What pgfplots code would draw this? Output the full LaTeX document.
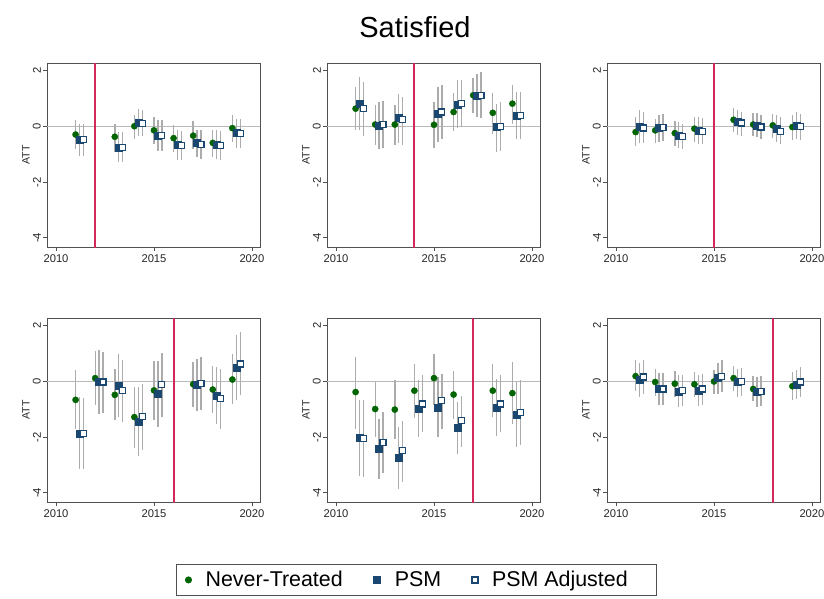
\documentclass[border=0pt]{standalone}
\usepackage{pgfplots}
\usepackage{pgfplotstable}
\pgfplotsset{compat=1.18}
\usepackage{fontspec}
\setmainfont{Liberation Sans}

\definecolor{ntgreen}{RGB}{0,100,0}
\definecolor{psmnavy}{RGB}{26,71,111}
\definecolor{cigray}{RGB}{172,172,172}
\definecolor{zerogray}{RGB}{185,185,185}
\definecolor{axisgray}{RGB}{80,80,80}
\definecolor{treatred}{RGB}{210,40,90}

% yr nt ntlo nthi psm psmlo psmhi adj adjlo adjhi
\pgfplotstableread{
yr nt ntlo nthi psm psmlo psmhi adj adjlo adjhi
2011 -0.29 -0.80 0.22 -0.48 -1.05 0.10 -0.48 -1.05 0.10
2013 -0.37 -0.93 0.10 -0.75 -1.29 -0.20 -0.75 -1.29 -0.20
2014 0.01 -0.45 0.42 0.13 -0.33 0.64 0.10 -0.36 0.60
2015 -0.14 -0.63 0.34 -0.33 -0.87 0.22 -0.33 -0.87 0.22
2016 -0.42 -0.93 0.04 -0.66 -1.20 -0.14 -0.69 -1.22 -0.16
2017 -0.33 -0.81 0.18 -0.59 -1.10 -0.11 -0.66 -1.18 -0.14
2018 -0.59 -1.08 -0.11 -0.66 -1.17 -0.11 -0.69 -1.20 -0.15
2019 -0.06 -0.54 0.40 -0.24 -0.77 0.28 -0.24 -0.77 0.28
}\tabA
\pgfplotstableread{
yr nt ntlo nthi psm psmlo psmhi adj adjlo adjhi
2011 0.64 -0.14 1.42 0.82 -0.14 1.78 0.64 -0.33 1.60
2012 0.07 -0.66 0.78 0.01 -0.80 0.88 0.07 -0.78 0.90
2013 0.07 -0.66 0.78 0.31 -0.59 1.18 0.24 -0.66 1.06
2015 0.06 -0.77 0.88 0.46 -0.54 1.42 0.52 -0.45 1.48
2016 0.52 -0.18 1.20 0.78 -0.06 1.66 0.82 -0.02 1.66
2017 1.12 0.48 1.75 1.12 0.34 1.90 1.12 0.30 1.94
2018 0.49 -0.27 1.22 -0.02 -0.93 0.82 0.01 -0.87 0.88
2019 0.82 0.10 1.50 0.40 -0.45 1.24 0.40 -0.45 1.24
}\tabB
\pgfplotstableread{
yr nt ntlo nthi psm psmlo psmhi adj adjlo adjhi
2011 -0.20 -0.71 0.34 0.00 -0.60 0.58 -0.06 -0.59 0.52
2012 -0.14 -0.59 0.28 -0.06 -0.54 0.42 -0.04 -0.51 0.46
2013 -0.24 -0.69 0.18 -0.33 -0.78 0.16 -0.35 -0.81 0.10
2014 -0.08 -0.54 0.34 -0.14 -0.63 0.34 -0.17 -0.63 0.30
2016 0.24 -0.20 0.66 0.16 -0.30 0.58 0.12 -0.33 0.52
2017 0.07 -0.35 0.49 0.04 -0.39 0.49 -0.02 -0.45 0.40
2018 0.04 -0.42 0.46 -0.08 -0.57 0.40 -0.17 -0.63 0.34
2019 -0.02 -0.47 0.42 0.04 -0.45 0.52 0.00 -0.47 0.46
}\tabC
\pgfplotstableread{
yr nt ntlo nthi psm psmlo psmhi adj adjlo adjhi
2011 -0.66 -1.70 0.40 -1.88 -3.14 -0.56 -1.86 -3.14 -0.60
2012 0.12 -0.86 1.11 0.00 -1.16 1.14 -0.02 -1.14 1.06
2013 -0.48 -1.40 0.46 -0.14 -1.28 1.00 -0.32 -1.46 0.78
2014 -1.28 -2.38 -0.20 -1.46 -2.66 -0.20 -1.26 -2.45 -0.08
2015 -0.32 -1.38 0.73 -0.44 -1.62 0.75 -0.10 -1.26 1.02
2017 -0.10 -0.90 0.70 -0.12 -1.07 0.82 -0.08 -1.04 0.88
2018 -0.29 -1.14 0.54 -0.50 -1.52 0.52 -0.62 -1.70 0.46
2019 0.07 -0.80 0.99 0.49 -0.68 1.68 0.63 -0.50 1.77
}\tabD
\pgfplotstableread{
yr nt ntlo nthi psm psmlo psmhi adj adjlo adjhi
2011 -0.38 -1.71 0.88 -2.03 -3.40 -0.66 -2.05 -3.43 -0.66
2012 -0.99 -1.99 -0.02 -2.43 -3.50 -1.35 -2.19 -3.30 -1.10
2013 -1.01 -2.07 0.04 -2.73 -3.88 -1.65 -2.49 -3.60 -1.41
2014 -0.33 -1.31 0.64 -0.99 -2.01 0.04 -0.81 -1.83 0.22
2015 0.12 -0.83 1.00 -0.93 -2.01 0.16 -0.69 -1.71 0.28
2016 -0.47 -1.35 0.37 -1.67 -2.61 -0.75 -1.41 -2.37 -0.51
2018 -0.33 -1.29 0.61 -0.95 -1.95 0.10 -0.81 -1.80 0.22
2019 -0.42 -1.53 0.70 -1.20 -2.37 -0.02 -1.11 -2.28 0.04
}\tabE
\pgfplotstableread{
yr nt ntlo nthi psm psmlo psmhi adj adjlo adjhi
2011 0.19 -0.33 0.76 0.06 -0.54 0.66 0.16 -0.45 0.78
2012 -0.02 -0.51 0.46 -0.27 -0.83 0.30 -0.27 -0.83 0.30
2013 -0.08 -0.54 0.37 -0.36 -0.93 0.22 -0.33 -0.87 0.25
2014 -0.10 -0.57 0.34 -0.33 -0.87 0.22 -0.27 -0.83 0.28
2015 0.00 -0.45 0.42 0.12 -0.45 0.66 0.18 -0.39 0.76
2016 0.12 -0.33 0.54 -0.02 -0.54 0.46 0.00 -0.51 0.49
2017 -0.27 -0.71 0.18 -0.36 -0.90 0.16 -0.35 -0.87 0.18
2019 -0.17 -0.66 0.34 -0.11 -0.63 0.42 -0.02 -0.57 0.52
}\tabF

\pgfplotsset{
  panel/.style={
    scale only axis, width=213pt, height=184pt, anchor=north west,
    xmin=2009.54, xmax=2020.41, ymin=-4.33, ymax=2.28,
    xtick={2010,2015,2020}, xticklabels={2010,2015,2020},
    ytick={-4,-2,0,2},
    tick align=outside, xtick pos=left, ytick pos=left,
    major tick length=4pt,
    tick style={color=axisgray, line width=0.8pt},
    axis line style={axisgray, line width=0.9pt},
    ticklabel style={font=\fontsize{11.2}{13}\selectfont, text=black!85},
    /pgf/number format/assume math mode=true,
    yticklabel style={rotate=90, anchor=south, inner sep=2pt},
    xticklabel style={inner sep=3pt},
    ylabel={ATT},
    every axis y label/.style={at={(axis description cs:0,0.5)}, xshift=-21pt, rotate=90, anchor=center, font=\fontsize{10.6}{12}\selectfont, text=black!85},
    legend image code/.code={\draw[mark repeat=2,mark phase=2,##1] plot coordinates {(0pt,0pt) (6pt,0pt) (12pt,0pt)};},
  },
  cistyle/.style={forget plot, only marks, mark=none,
    /pgfplots/error bars/y dir=both, /pgfplots/error bars/y explicit,
    /pgfplots/error bars/error mark=none,
    /pgfplots/error bars/error bar style={draw=cigray, line width=1.4pt, solid}},
  ntstyle/.style={only marks, mark=*, mark size=3.1pt, color=ntgreen, mark options={draw=ntgreen, fill=ntgreen}},
  psmstyle/.style={only marks, mark=square*, mark size=3.5pt, color=psmnavy, mark options={draw=psmnavy, fill=psmnavy}},
  adjstyle/.style={only marks, mark=square*, mark size=3.0pt, color=psmnavy, mark options={draw=psmnavy, fill=white, line width=1.3pt}},
}

\newcommand{\panel}[5]{%
\begin{axis}[panel, at={(#1pt,#2pt)}, #5]
\addplot[forget plot, zerogray, line width=1pt] coordinates {(2009,0) (2021,0)};
\addplot[forget plot, draw=treatred, line width=2pt] coordinates {(#4,-5) (#4,3)};
\addplot[cistyle] table[x=yr, y=nt, y error plus expr=\thisrow{nthi}-\thisrow{nt}, y error minus expr=\thisrow{nt}-\thisrow{ntlo}] {#3};
\addplot[cistyle] table[x expr=\thisrow{yr}+0.2, y=psm, y error plus expr=\thisrow{psmhi}-\thisrow{psm}, y error minus expr=\thisrow{psm}-\thisrow{psmlo}] {#3};
\addplot[cistyle] table[x expr=\thisrow{yr}+0.4, y=adj, y error plus expr=\thisrow{adjhi}-\thisrow{adj}, y error minus expr=\thisrow{adj}-\thisrow{adjlo}] {#3};
\addplot[ntstyle] table[x=yr, y=nt] {#3};
\addplot[psmstyle] table[x expr=\thisrow{yr}+0.2, y=psm] {#3};
\addplot[adjstyle] table[x expr=\thisrow{yr}+0.4, y=adj] {#3};
\end{axis}}

\begin{document}
\begin{tikzpicture}
\node[font=\fontsize{29}{34}\selectfont, anchor=base] at (415pt,-37pt) {Satisfied};
\panel{47}{-63}{\tabA}{2012}{}
\panel{327}{-63}{\tabB}{2014}{}
\panel{607}{-63}{\tabC}{2015}{}
\panel{47}{-318}{\tabD}{2016}{}
\panel{327}{-318}{\tabE}{2017}{legend entries={Never-Treated,PSM,PSM Adjusted\hspace*{18pt}}, legend columns=3, legend style={at={(-0.709,-0.337)}, anchor=north west, draw=axisgray, line width=0.8pt, font=\fontsize{21.4}{25}\selectfont, inner xsep=9pt, inner ysep=5pt, /tikz/every odd column/.append style={column sep=12pt}, /tikz/every even column/.append style={column sep=29pt}}}
\panel{607}{-318}{\tabF}{2018}{}
\pgfresetboundingbox
\useasboundingbox (0pt,0pt) rectangle (824pt,-598pt);
\end{tikzpicture}
\end{document}
